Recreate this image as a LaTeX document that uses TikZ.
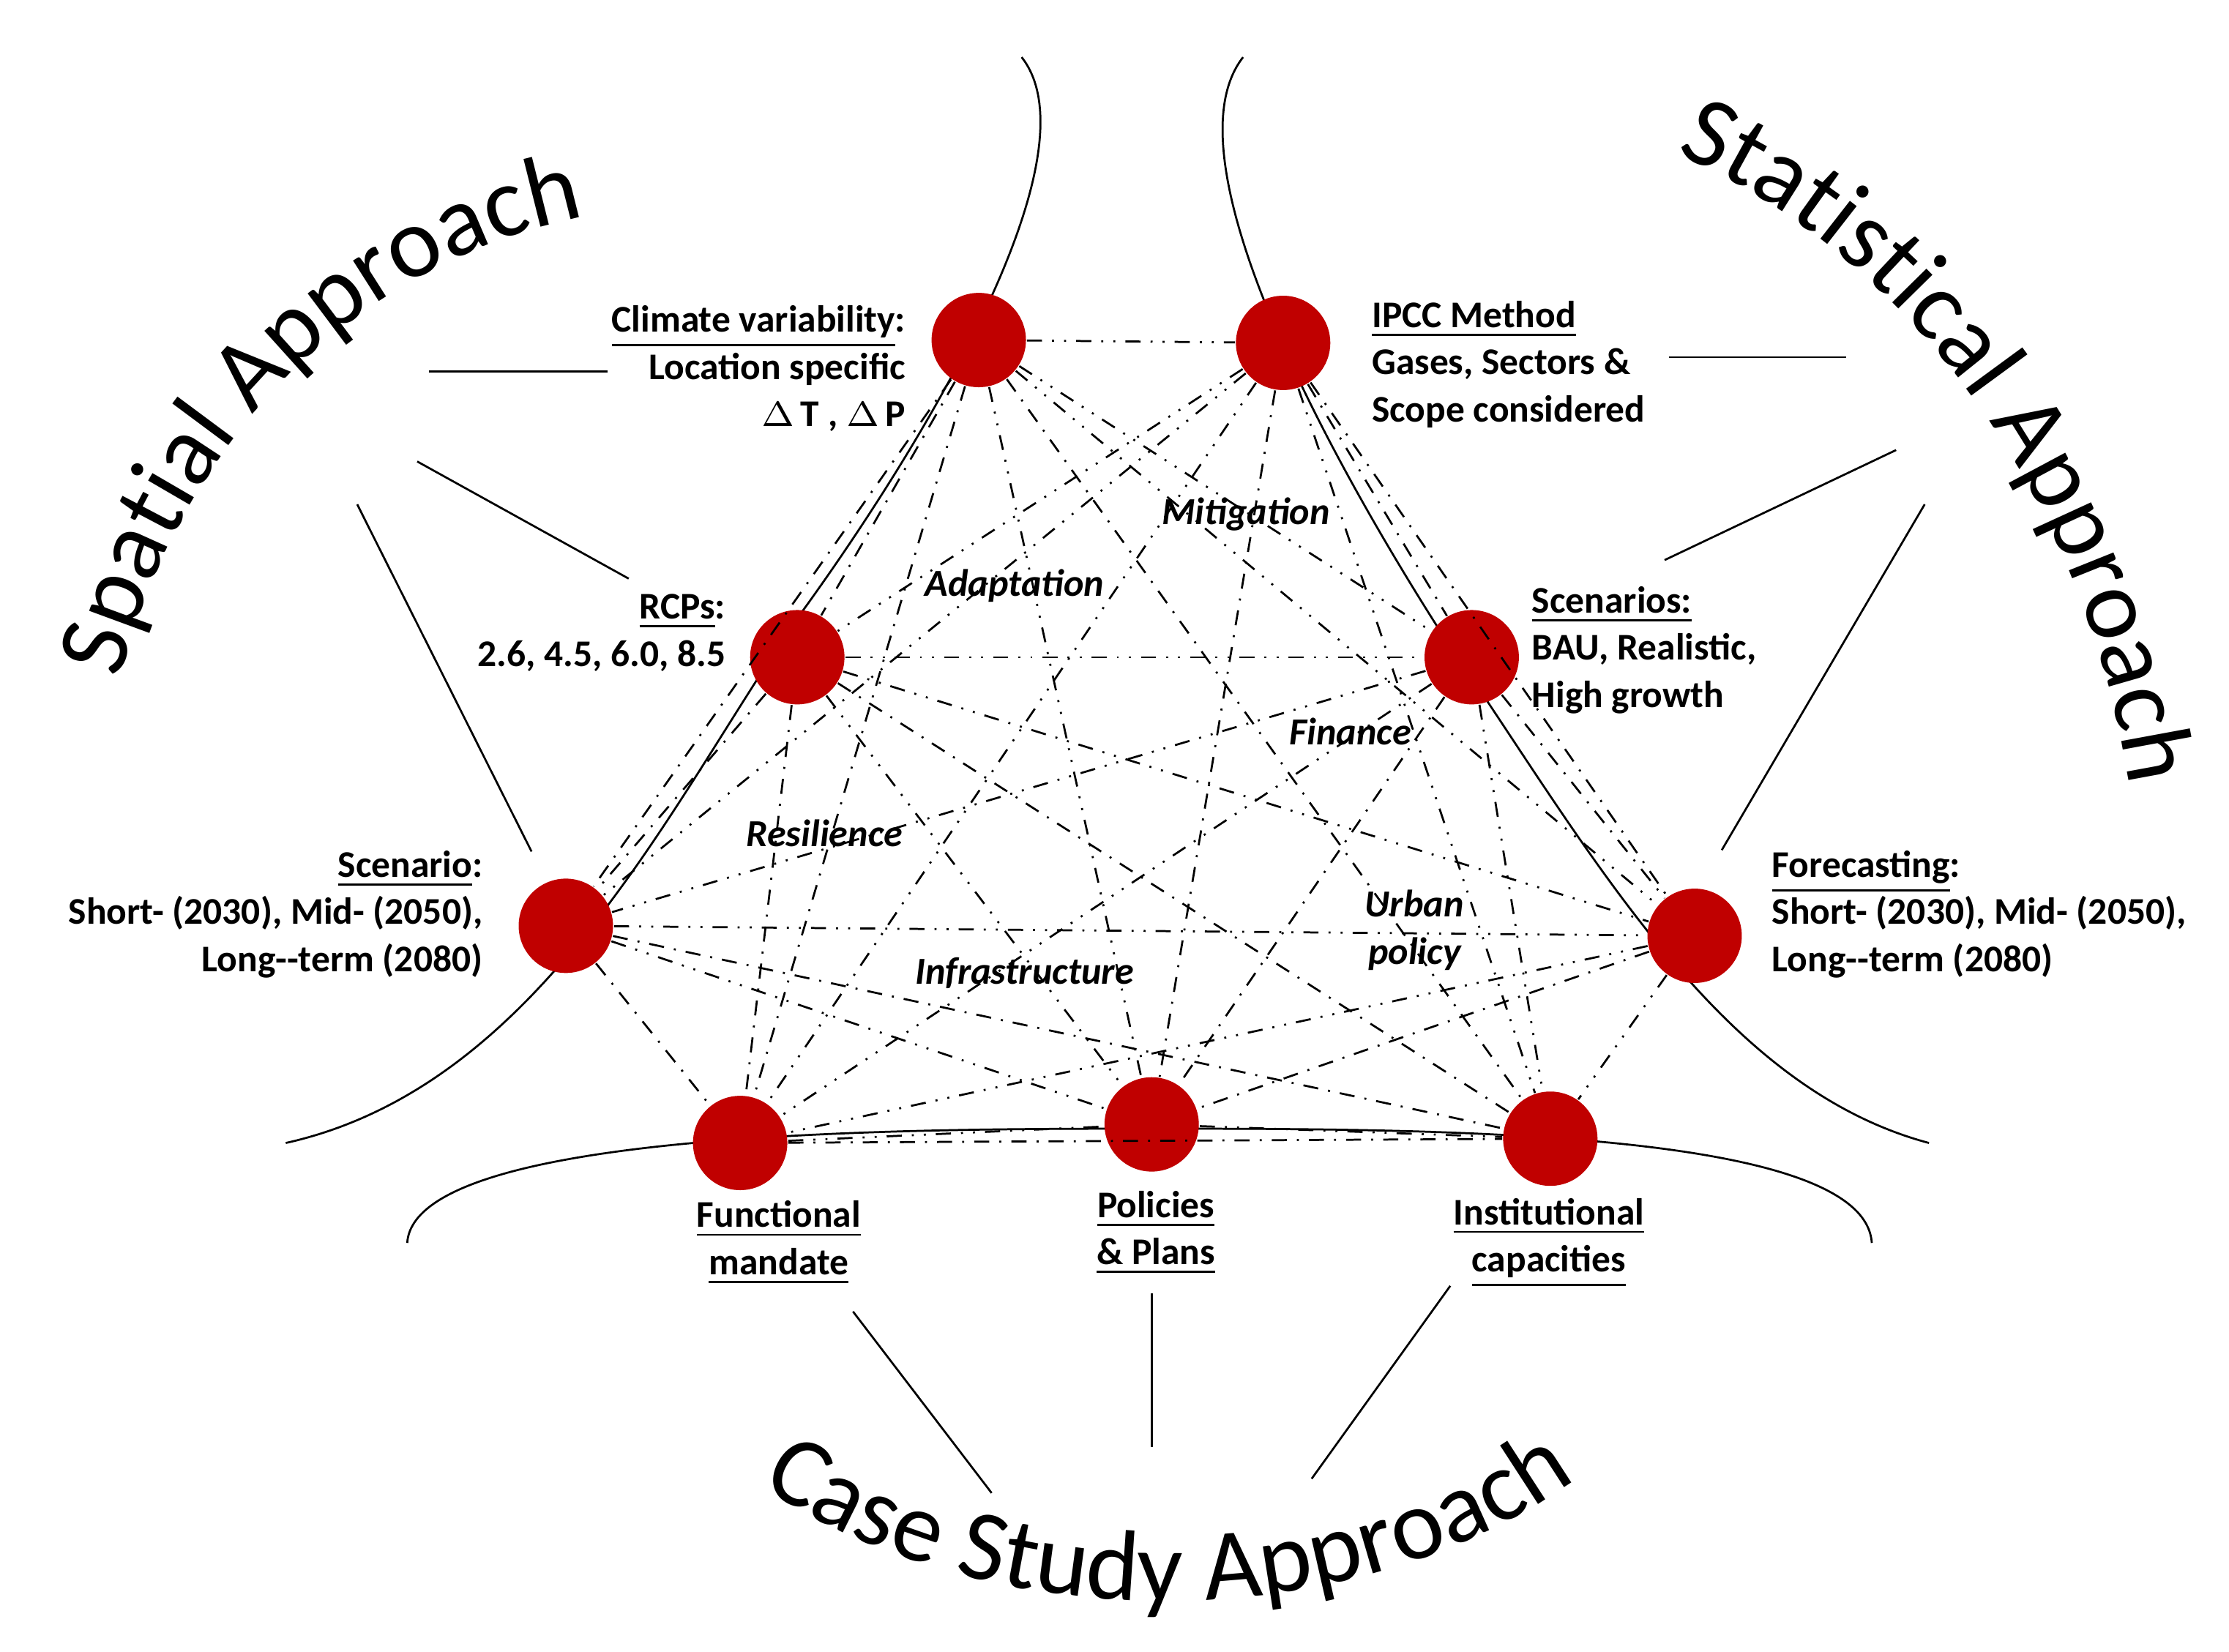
\documentclass[tikz,border=0pt]{standalone}
\usepackage{fontspec}
\setmainfont{Carlito}
\usetikzlibrary{decorations.text}
\definecolor{dotred}{RGB}{192,0,0}
\tikzset{
  hub/.style = {circle, fill = dotred, minimum size = 0.66cm, inner sep = 0pt},
  lbl/.style = {font = \fontsize{7.5}{9.4}\selectfont\bfseries, inner sep = 1pt},
  theme/.style = {font = \fontsize{7.6}{9.4}\selectfont\bfseries\itshape, inner sep = 0pt},
  link/.style = {thin, dash dot},
  linkb/.style = {thin, dash dot dot},
  title/.style = {decorate, decoration = {text along path, text align = center,
      text = {|\fontsize{20}{20}\selectfont|#1}}}
}
\begin{document}
\begin{tikzpicture}[x = 0.01cm, y = -0.01cm, yshift = 11.56cm]
    \useasboundingbox (0, 0) rectangle (1560, 1156);

    % Curves
    \draw (715, 40) .. controls (770, 110) and (640, 320) .. (560, 430) .. controls (470, 560) and (380, 760) .. (200, 800);
    \draw (870, 40) .. controls (815, 110) and (930, 320) .. (1010, 445) .. controls (1110, 590) and (1200, 760) .. (1350, 800);
    \draw (285, 870) .. controls (290, 790) and (640, 790) .. (806, 790) .. controls (1000, 790) and (1305, 790) .. (1310, 870);

    % Hubs
    \node[hub] (clim) at (685, 238) {};
    \node[hub] (ipcc) at (898, 240) {};
    \node[hub] (rcp) at (558, 460) {};
    \node[hub] (scen) at (1030, 460) {};
    \node[hub] (scn) at (396, 648) {};
    \node[hub] (fore) at (1186, 655) {};
    \node[hub] (func) at (518, 800) {};
    \node[hub] (pol) at (806, 787) {};
    \node[hub] (inst) at (1085, 797) {};

    % Links
    \foreach \a [count = \i] in {clim, ipcc, rcp, scen, scn, fore, func, pol, inst} {
        \foreach \b [count = \j] in {clim, ipcc, rcp, scen, scn, fore, func, pol, inst} {
            \ifnum\j>\i
                \pgfmathparse{int(mod(\i + \j, 2))}
                \ifnum\pgfmathresult=0
                    \draw[link] (\a) -- (\b);
                \else
                    \draw[linkb] (\a) -- (\b);
                \fi
            \fi
        }
    }

    % Labels
    \node[lbl, anchor = east, align = right] (climl) at (638, 258) {\underline{Climate variability}:\\Location specific\\$\Delta$\,T , $\Delta$\,P};
    \node[lbl, anchor = west, align = left] (ipccl) at (956, 255) {\underline{IPCC Method}\\Gases, Sectors \&\\Scope considered};
    \node[lbl, anchor = east, align = right] (rcpl) at (512, 443) {\underline{RCPs}:\\2.6, 4.5, 6.0, 8.5};
    \node[lbl, anchor = west, align = left] (scenl) at (1068, 455) {\underline{Scenarios:}\\BAU, Realistic,\\High growth};
    \node[lbl, anchor = east, align = right] (scnl) at (342, 640) {\underline{Scenario}:\\Short- (2030), Mid- (2050),\\Long-{}-term (2080)};
    \node[lbl, anchor = west, align = left] (forel) at (1236, 640) {\underline{Forecasting}:\\Short- (2030), Mid- (2050),\\Long-{}-term (2080)};
    \node[lbl, align = center] (funcl) at (545, 870) {\underline{Functional}\\\underline{mandate}};
    \node[lbl, align = center] (poll) at (809, 863) {\underline{Policies}\\\underline{\& Plans}};
    \node[lbl, align = center] (instl) at (1084, 870) {\underline{Institutional}\\\underline{capacities}};

    \node[theme] (mit) at (872, 360) {Mitigation};
    \node[theme] (ada) at (710, 410) {Adaptation};
    \node[theme] (fin) at (945, 512) {Finance};
    \node[theme] (res) at (577, 583) {Resilience};
    \node[theme, align = center] (urb) at (990, 651) {Urban\\policy};
    \node[theme] (inf) at (717, 681) {Infrastructure};

    % Pointers
    \draw (300, 260) -- (425, 260);
    \draw (292, 323) -- (440, 405);
    \draw (250, 353) -- (372, 596);
    \draw (1168, 250) -- (1292, 250);
    \draw (1165, 392) -- (1327, 315);
    \draw (1205, 595) -- (1347, 353);
    \draw (597, 918) -- (694, 1045);
    \draw (806, 905) -- (806, 1013);
    \draw (1015, 900) -- (918, 1035);

    % Titles
    \path[title = {Spatial Approach}] (75, 515) .. controls (115, 300) and (265, 165) .. (450, 145);
    \path[title = {Statistical Approach}] (1140, 95) .. controls (1330, 160) and (1470, 350) .. (1495, 585);
    \path[title = {Case Study Approach}] (525, 1035) .. controls (690, 1150) and (950, 1150) .. (1110, 1030);
\end{tikzpicture}
\end{document}
